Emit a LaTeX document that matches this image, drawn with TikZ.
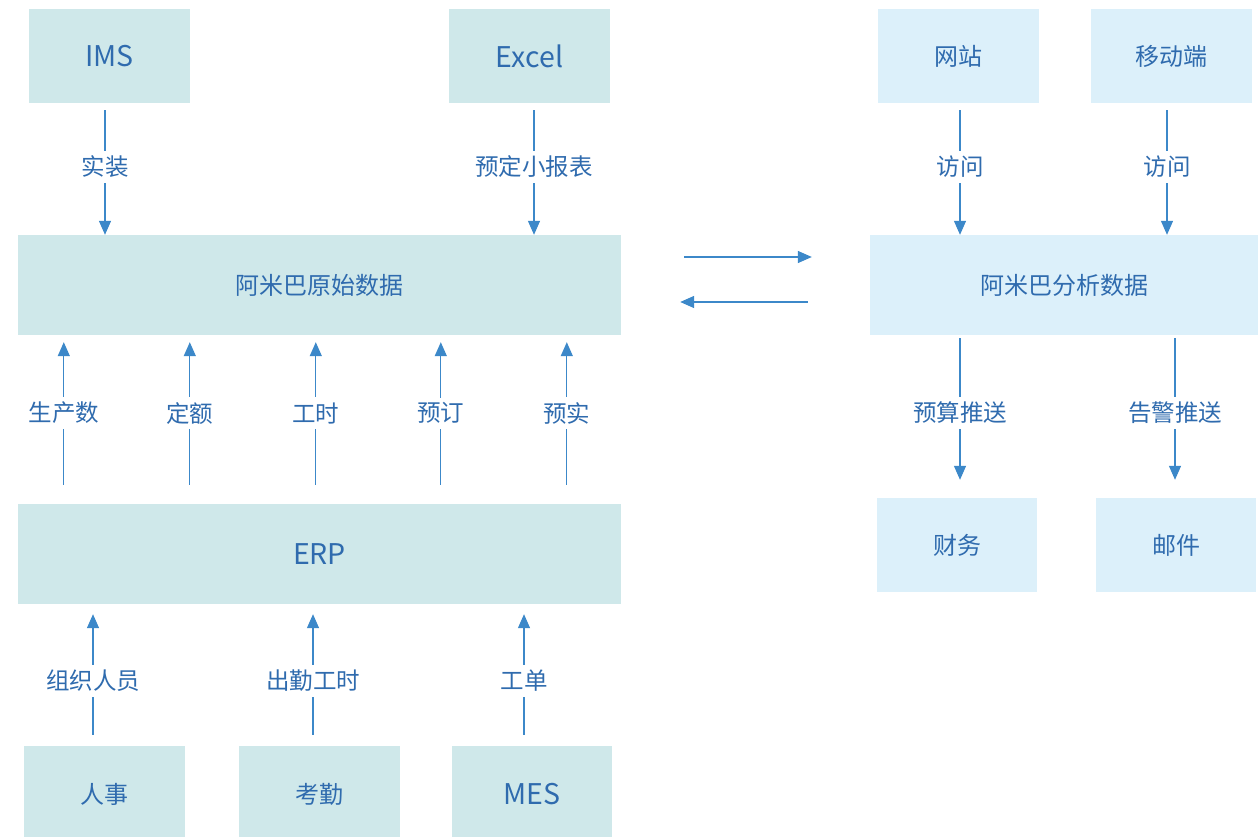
\documentclass[tikz,border=0pt]{standalone}
\usepackage{fontspec}
\setmainfont{Noto Sans CJK SC}
\usetikzlibrary{arrows.meta,calc}
\definecolor{lfill}{HTML}{CFE8EA}
\definecolor{rfill}{HTML}{DCF0FA}
\definecolor{txt}{HTML}{2F6BAE}
\definecolor{arc}{HTML}{3C88C9}
\tikzset{
  lbox/.style={fill=lfill,draw=none,inner sep=0pt,text=txt,font=\fontsize{24}{28}\selectfont},
  rbox/.style={fill=rfill,draw=none,inner sep=0pt,text=txt,font=\fontsize{24}{28}\selectfont},
  latin/.style={font=\fontsize{28.5}{33}\selectfont},
  lab/.style={fill=white,inner sep=5pt,text=txt,font=\fontsize{23.5}{27}\selectfont},
  arr/.style={draw=arc,line width=1.3pt,-{Triangle[length=14pt,width=12pt]}}
}
\begin{document}
\begin{tikzpicture}[x=1pt,y=-1pt]
\useasboundingbox[fill=white] (0,0) rectangle (1258,837);
% left column boxes
\node[lbox,latin,minimum width=161pt,minimum height=94pt] (ims) at (109.5,56) {IMS};
\node[lbox,latin,minimum width=161pt,minimum height=94pt] (excel) at (529.5,56) {Excel};
\node[lbox,minimum width=603pt,minimum height=100pt] (raw) at (319.5,285) {阿米巴原始数据};
\node[lbox,latin,minimum width=603pt,minimum height=100pt] (erp) at (319.5,554) {ERP};
\node[lbox,minimum width=161pt,minimum height=97pt] (hr) at (104.5,794.5) {人事};
\node[lbox,minimum width=161pt,minimum height=97pt] (att) at (319.5,794.5) {考勤};
\node[lbox,latin,minimum width=160pt,minimum height=97pt] (mes) at (532,794.5) {MES};
% right column boxes
\node[rbox,minimum width=161pt,minimum height=94pt] (web) at (958.5,56) {网站};
\node[rbox,minimum width=161pt,minimum height=94pt] (mob) at (1171.5,56) {移动端};
\node[rbox,minimum width=388pt,minimum height=100pt] (ana) at (1064,285) {阿米巴分析数据};
\node[rbox,minimum width=160pt,minimum height=94pt] (fin) at (957,545) {财务};
\node[rbox,minimum width=160pt,minimum height=94pt] (mail) at (1176,545) {邮件};
% top arrows into raw
\draw[arr] ($(ims.south)+(-4.5,7)$) -- ($(ims.south|-raw.north)+(-4.5,0)$) node[lab,pos=0.456] {实装};
\draw[arr] ($(excel.south)+(4.5,7)$) -- ($(excel.south|-raw.north)+(4.5,0)$) node[lab,pos=0.456] {预定小报表};
% ERP to raw
\foreach \dx/\t in {46/生产数,172/定额,298/工时,423/预订,549/预实}{
  \draw[arr] ($(erp.north west)+(\dx,-19)$) -- ($(raw.south west)+(\dx,7)$) node[lab,pos=0.503] {\t};
}
% bottom to ERP
\draw[arr] ($(hr.north)+(-11.5,-11)$) -- ($(hr.north|-erp.south)+(-11.5,10)$) node[lab,pos=0.446] {组织人员};
\draw[arr] ($(att.north)+(-6.5,-11)$) -- ($(att.north|-erp.south)+(-6.5,10)$) node[lab,pos=0.446] {出勤工时};
\draw[arr] ($(mes.north)+(-8,-11)$) -- ($(mes.north|-erp.south)+(-8,10)$) node[lab,pos=0.446] {工单};
% horizontal arrows
\draw[arr] ($(raw.east)+(63,-28)$) -- ($(ana.west)+(-58,-28)$);
\draw[arr] ($(ana.west)+(-62,17)$) -- ($(raw.east)+(59,17)$);
% right arrows
\draw[arr] ($(web.south)+(1.5,7)$) -- ($(web.south|-ana.north)+(1.5,0)$) node[lab,pos=0.456] {访问};
\draw[arr] ($(mob.south)+(-4.5,7)$) -- ($(mob.south|-ana.north)+(-4.5,0)$) node[lab,pos=0.456] {访问};
\draw[arr] ($(fin.north|-ana.south)+(3,3)$) -- ($(fin.north)+(3,-18)$) node[lab,pos=0.528] {预算推送};
\draw[arr] ($(mail.north|-ana.south)+(-1,3)$) -- ($(mail.north)+(-1,-18)$) node[lab,pos=0.528] {告警推送};
\end{tikzpicture}
\end{document}
